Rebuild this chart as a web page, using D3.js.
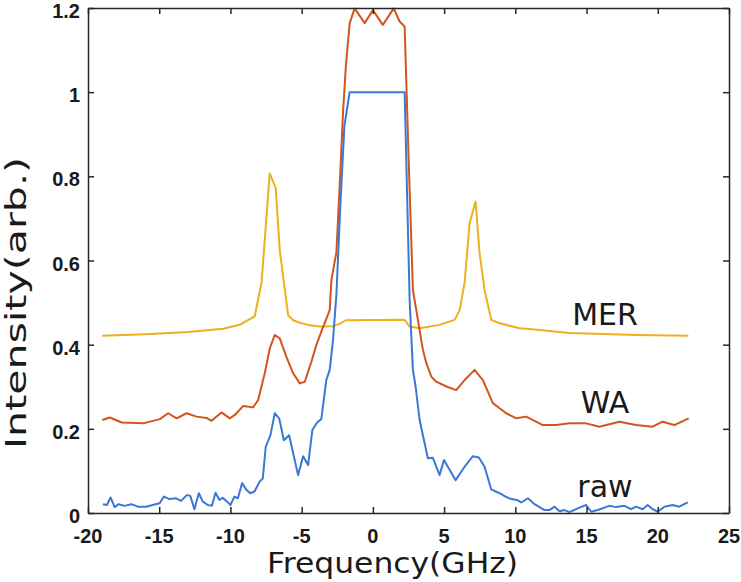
<!DOCTYPE html>
<html><head><meta charset="utf-8">
<script src="https://cdn.jsdelivr.net/npm/d3@7"></script>
<style>body{margin:0;background:#fff;} svg{display:block;}</style>
</head><body>
<svg id="c" width="741" height="582"></svg>
<script>
// Data (frequency GHz, intensity arb.)
const rawX = [-18.95,-18.67,-18.42,-18.13,-17.85,-17.43,-16.96,-16.5,-15.91,-15.33,-14.97,-14.67,-14.28,-13.81,-13.46,-13.04,-12.81,-12.53,-12.22,-11.94,-11.59,-11.3,-11.05,-10.77,-10.54,-10.24,-10.0,-9.72,-9.48,-9.18,-8.9,-8.62,-8.31,-7.96,-7.73,-7.52,-7.19,-6.89,-6.58,-6.25,-5.88,-5.55,-5.25,-4.9,-4.55,-4.25,-3.92,-3.62,-3.27,-3.03,-2.8,-2.56,-2.3,-2.0,-1.63,2.23,2.58,2.81,3.0,3.28,3.86,4.21,4.68,4.99,5.81,6.44,7.02,7.44,7.84,8.31,8.89,9.31,9.71,10.11,10.41,10.88,11.35,12.05,12.4,12.75,13.1,13.45,13.8,14.38,14.97,15.32,15.79,16.6,17.07,17.66,18.13,18.47,18.94,19.29,19.64,20.0,20.46,21.04,21.51,22.1];
const rawY = [0.021,0.019,0.037,0.014,0.021,0.017,0.021,0.015,0.015,0.020,0.023,0.039,0.033,0.035,0.029,0.043,0.040,0.009,0.047,0.027,0.019,0.017,0.048,0.031,0.036,0.027,0.019,0.039,0.035,0.071,0.056,0.047,0.051,0.074,0.082,0.158,0.185,0.237,0.225,0.173,0.185,0.135,0.090,0.135,0.114,0.197,0.215,0.223,0.316,0.340,0.411,0.52,0.72,0.92,1.0,1.0,0.506,0.34,0.30,0.221,0.130,0.131,0.090,0.126,0.078,0.110,0.135,0.132,0.110,0.056,0.047,0.039,0.033,0.031,0.025,0.035,0.021,0.007,0.007,0.015,0.004,0.007,0.002,0.011,0.019,0.003,0.007,0.017,0.014,0.017,0.009,0.015,0.009,0.019,0.009,0.003,0.015,0.019,0.015,0.025];

const waX = [-19.0,-18.46,-17.64,-16.12,-14.95,-14.37,-13.78,-13.08,-12.38,-11.68,-11.33,-10.63,-10.04,-9.69,-9.11,-8.41,-8.06,-7.59,-7.24,-6.89,-6.54,-6.07,-5.6,-5.13,-4.78,-4.31,-3.97,-3.62,-3.03,-2.91,-2.56,-2.3,-2.1,-1.9,-1.63,-1.28,-0.58,-0.22,0.0,0.7,1.46,1.88,2.23,2.5,2.81,3.16,3.5,3.75,4.1,4.44,5.2,5.85,6.44,7.14,7.72,8.42,9.36,10.06,10.76,11.93,12.87,13.8,14.97,15.9,17.31,18.47,19.64,20.34,21.16,22.17];
const waY = [0.221,0.227,0.215,0.213,0.223,0.237,0.225,0.237,0.229,0.226,0.219,0.239,0.225,0.233,0.254,0.251,0.268,0.332,0.391,0.423,0.415,0.371,0.332,0.308,0.312,0.360,0.399,0.431,0.482,0.554,0.62,0.80,0.95,1.06,1.164,1.199,1.164,1.183,1.195,1.16,1.199,1.168,1.156,0.85,0.53,0.459,0.39,0.356,0.324,0.312,0.300,0.292,0.316,0.340,0.316,0.261,0.237,0.225,0.229,0.209,0.209,0.213,0.213,0.205,0.217,0.209,0.205,0.217,0.209,0.225];

const merX = [-19,-16,-13,-10.5,-9.3,-8.3,-7.82,-7.47,-7.24,-6.82,-6.54,-5.95,-5.6,-5.13,-4.55,-3.73,-2.8,-2.3,-1.9,2.23,2.58,3.28,4.68,5.74,6.09,6.44,6.79,7.21,7.49,7.84,8.31,8.89,10.29,11.0,13.8,18.5,22.15];
const merY = [0.421,0.425,0.430,0.438,0.448,0.467,0.547,0.704,0.807,0.772,0.625,0.470,0.458,0.452,0.447,0.443,0.444,0.450,0.458,0.459,0.443,0.439,0.447,0.459,0.482,0.547,0.689,0.740,0.618,0.530,0.459,0.451,0.439,0.437,0.428,0.423,0.421];

const xTicks = [-20,-15,-10,-5,0,5,10,15,20,25];
const yTicks = [0,0.2,0.4,0.6,0.8,1,1.2];
const yTickLabels = ["0","0.2","0.4","0.6","0.8","1","1.2"];

const seriesNames = ["raw","WA","MER"];
const seriesColors = ["#3b78d6","#d4541c","#ecb021"];

const svg = d3.select("#c");
const L=88, R=729, T=8, B=513;
const x = d3.scaleLinear().domain([-20,25]).range([L,R]);
const y = d3.scaleLinear().domain([0,1.2]).range([B,T]);

const line = d3.line().x(d=>x(d[0])).y(d=>y(d[1]));
const series = [
  d3.zip(rawX, rawY),
  d3.zip(waX, waY),
  d3.zip(merX, merY)
];
[2,1,0].forEach(i=>{
  svg.append("path").datum(series[i]).attr("d",line)
    .attr("fill","none").attr("stroke",seriesColors[i]).attr("stroke-width",2)
    .attr("stroke-linejoin","round");
});

// axes box
const axCol="#262626";
const gB = svg.append("g").attr("transform",`translate(0,${B})`)
  .call(d3.axisBottom(x).tickValues(xTicks).tickSizeInner(-6).tickSizeOuter(0).tickFormat(""));
const gT = svg.append("g").attr("transform",`translate(0,${T})`)
  .call(d3.axisTop(x).tickValues(xTicks).tickSizeInner(-6).tickSizeOuter(0).tickFormat(""));
const gL = svg.append("g").attr("transform",`translate(${L},0)`)
  .call(d3.axisLeft(y).tickValues(yTicks).tickSizeInner(-6).tickSizeOuter(0).tickFormat(""));
const gR = svg.append("g").attr("transform",`translate(${R},0)`)
  .call(d3.axisRight(y).tickValues(yTicks).tickSizeInner(-6).tickSizeOuter(0).tickFormat(""));
[gB,gT,gL,gR].forEach(g=>{
  g.selectAll("path.domain").attr("stroke",axCol).attr("stroke-width",1.5);
  g.selectAll(".tick line").attr("stroke",axCol).attr("stroke-width",1.5);
});

// tick labels
svg.append("g").selectAll("text").data(xTicks).join("text")
  .attr("x",d=>x(d)).attr("y",543).attr("text-anchor","middle")
  .attr("font-family","'Liberation Sans',Arial,sans-serif").attr("font-weight","bold")
  .attr("font-size",20).attr("fill","#1a1a1a").text(d=>d);
svg.append("g").selectAll("text").data(yTicks).join("text")
  .attr("x",80).attr("y",d=>y(d)).attr("dy","0.5em").attr("text-anchor","end")
  .attr("font-family","'Liberation Sans',Arial,sans-serif").attr("font-weight","bold")
  .attr("font-size",20).attr("fill","#1a1a1a").text((d,i)=>yTickLabels[i]);

// axis titles
svg.append("text").attr("x",392.5).attr("y",573).attr("text-anchor","middle")
  .attr("font-family","'DejaVu Sans',Verdana,sans-serif").attr("font-size",28)
  .attr("textLength",251).attr("lengthAdjust","spacingAndGlyphs")
  .attr("fill","#1a1a1a").text("Frequency(GHz)");
svg.append("text").attr("transform","translate(26,303) rotate(-90)").attr("text-anchor","middle")
  .attr("font-family","'DejaVu Sans',Verdana,sans-serif").attr("font-size",28)
  .attr("textLength",292).attr("lengthAdjust","spacingAndGlyphs")
  .attr("fill","#1a1a1a").text("Intensity(arb.)");

// series labels
const seriesLabelY = [496.5, 413, 325];
const seriesLabelX = [605, 605, 605];
svg.append("g").selectAll("text").data(seriesNames).join("text")
  .attr("x",(d,i)=>seriesLabelX[i]).attr("y",(d,i)=>seriesLabelY[i]).attr("text-anchor","middle")
  .attr("font-family","'DejaVu Sans',Verdana,sans-serif").attr("font-size",30)
  .attr("fill","#1a1a1a").text(d=>d);
</script>
</body></html>
